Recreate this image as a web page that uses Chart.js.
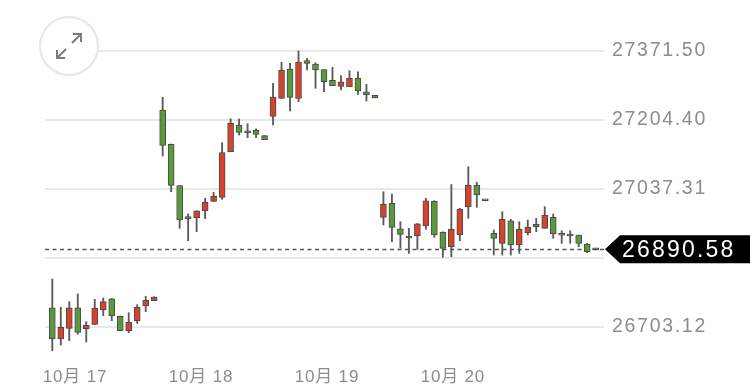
<!DOCTYPE html>
<html>
<head>
<meta charset="utf-8">
<script src="https://cdn.jsdelivr.net/npm/chart.js@4.4.0/dist/chart.umd.min.js"></script>
<style>
    html, body { margin: 0; padding: 0; background: #fff; overflow: hidden; }
    #wrap { width: 750px; height: 410px; }
</style>
</head>
<body>
<div id="wrap"><canvas id="kline" width="750" height="410"></canvas></div>
<script>
    // candle data, one entry per bar
    const opens  = [26749.1, 26673.3, 26699.2, 26749.1, 26698.3, 26708.9, 26743.5, 26770.9, 26728.3, 26693.4, 26717.6, 26753.2, 26766.1,
                    27227.9, 27144.8, 27044.6, 26966.3, 26967.1, 26984.0, 27006.8, 27016.5, 27126.9, 27191.6, 27175.3, 27178.7, 27165.7,
                    27212.6, 27256.2, 27327.2, 27256.2, 27347.3, 27339.3, 27325.5, 27299.8, 27285.3, 27284.3, 27305.4, 27272.2, 27263.5,
                    26968.0, 27001.9, 26940.4, 26919.6, 26922.8, 26947.0, 27006.8, 26931.7, 26896.8, 26925.2, 26993.7, 27045.5, 27008.6,
                    26929.3, 26905.1, 26959.8, 26901.0, 26930.8, 26951.1, 26941.4, 26968.0, 26925.9, 26926.9, 26925.2, 26903.4, 26889.5];
    const highs  = [26818.6, 26750.1, 26763.7, 26782.3, 26715.2, 26769.5, 26772.6, 26771.9, 26729.0, 26737.0, 26756.4, 26776.7, 26775.8,
                    27258.6, 27145.6, 27045.5, 26976.0, 26984.0, 27014.1, 27028.6, 27148.7, 27206.8, 27206.1, 27194.7, 27182.6, 27165.7,
                    27292.6, 27343.4, 27341.0, 27370.8, 27353.1, 27342.4, 27325.5, 27331.3, 27311.0, 27323.1, 27320.6, 27290.1, 27263.5,
                    27030.0, 27024.5, 26957.4, 26941.4, 26953.5, 27014.1, 27008.2, 26933.2, 27047.5, 26989.8, 27090.6, 27052.8, 27008.8,
                    26937.3, 26981.6, 26963.2, 26957.4, 26961.5, 26965.6, 26993.7, 26976.0, 26935.6, 26935.6, 26925.2, 26905.1, 26891.0];
    const lows   = [26645.0, 26658.8, 26669.2, 26684.7, 26666.1, 26708.0, 26729.7, 26717.6, 26693.4, 26688.6, 26711.3, 26739.4, 26766.1,
                    27116.5, 27030.0, 26941.4, 26911.4, 26933.2, 26964.7, 27006.8, 27011.6, 27126.9, 27167.3, 27160.8, 27160.8, 27156.0,
                    27191.6, 27256.2, 27225.5, 27248.0, 27324.8, 27280.4, 27272.2, 27286.7, 27276.3, 27284.3, 27265.9, 27249.7, 27257.0,
                    26949.4, 26909.0, 26893.0, 26880.9, 26890.5, 26939.0, 26919.6, 26871.2, 26872.6, 26911.4, 26965.6, 26992.3, 27007.8,
                    26876.7, 26876.7, 26876.7, 26880.9, 26925.2, 26933.2, 26941.4, 26917.2, 26905.1, 26905.1, 26896.8, 26882.3, 26889.0];
    const closes = [26673.3, 26701.7, 26749.1, 26689.5, 26706.5, 26748.4, 26763.7, 26729.0, 26693.4, 26713.8, 26750.1, 26767.0, 26775.0,
                    27142.4, 27045.5, 26961.5, 26964.7, 26984.0, 27004.4, 27019.6, 27124.5, 27195.7, 27173.9, 27172.9, 27169.0, 27156.0,
                    27259.4, 27324.8, 27258.6, 27344.1, 27341.0, 27324.8, 27296.4, 27286.7, 27296.4, 27304.7, 27273.9, 27264.9, 27257.0,
                    27000.3, 26943.8, 26926.9, 26917.9, 26952.5, 27008.2, 26925.2, 26893.0, 26939.0, 26987.4, 27045.5, 27022.0, 27008.2,
                    26917.2, 26963.2, 26901.0, 26939.0, 26943.8, 26945.3, 26973.6, 26927.6, 26924.5, 26922.8, 26905.1, 26884.7, 26890.58];

    const lastPrice = 26890.58;
    const priceTicks = [26536.03, 26703.12, 26870.21, 27037.31, 27204.40, 27371.50];
    const dayLabels = ['10月 17', '10月 18', '10月 19', '10月 20'];
    const dayTickAt = [2.67, 17.51, 32.35, 47.19];   // in candle-index units

    const UP = '#d6432d', DOWN = '#5a9a3c';

    const bodies = opens.map((o, i) => ({ x: i, y: [Math.min(o, closes[i]), Math.max(o, closes[i])] }));
    const wicks = highs.map((h, i) => ({ x: i, y: [lows[i], h] }));
    const bodyColors = opens.map((o, i) => closes[i] >= o ? UP : DOWN);

    const overlay = {
        id: 'overlay',
        beforeDraw(chart) {
            chart.ctx.letterSpacing = '1.7px';
        },
        beforeDatasetsDraw(chart) {
            const { ctx, chartArea, scales } = chart;
            const y = Math.round(scales.y.getPixelForValue(lastPrice)) + 0.5;
            ctx.save();
            ctx.strokeStyle = '#555';
            ctx.lineWidth = 1.5;
            ctx.setLineDash([4, 3.5]);
            ctx.beginPath();
            ctx.moveTo(chartArea.left, y);
            ctx.lineTo(chartArea.right, y);
            ctx.stroke();
            ctx.restore();
        },
        afterDraw(chart) {
            const { ctx, chartArea, scales } = chart;
            ctx.save();

            // last price tag
            const y = scales.y.getPixelForValue(lastPrice);
            const x0 = chartArea.right + 1;
            ctx.fillStyle = '#000';
            ctx.beginPath();
            ctx.moveTo(x0, y);
            ctx.lineTo(x0 + 15, y - 14);
            ctx.lineTo(750, y - 14);
            ctx.lineTo(750, y + 14);
            ctx.lineTo(x0 + 15, y + 14);
            ctx.closePath();
            ctx.fill();
            ctx.letterSpacing = '2.2px';
            ctx.fillStyle = '#fff';
            ctx.font = '23px "Liberation Sans", Arial, sans-serif';
            ctx.textAlign = 'left';
            ctx.textBaseline = 'middle';
            ctx.fillText(lastPrice.toFixed(2), x0 + 17, y + 1);

            // date labels
            ctx.letterSpacing = '0.8px';
            ctx.fillStyle = '#8c8c8c';
            ctx.font = '17px "Liberation Sans", "Noto Sans CJK SC", sans-serif';
            ctx.textAlign = 'center';
            dayLabels.forEach((lbl, i) => {
                ctx.fillText(lbl, scales.x.getPixelForValue(dayTickAt[i]), 377);
            });

            // expand button
            ctx.letterSpacing = '0px';
            ctx.beginPath();
            ctx.arc(69, 46, 29, 0, Math.PI * 2);
            ctx.fillStyle = '#fff';
            ctx.fill();
            ctx.strokeStyle = '#e6e6e6';
            ctx.lineWidth = 2;
            ctx.stroke();
            ctx.strokeStyle = '#7c7c7c';
            ctx.lineWidth = 2;
            ctx.beginPath();
            ctx.moveTo(66, 49); ctx.lineTo(57, 58);
            ctx.moveTo(57, 50); ctx.lineTo(57, 58); ctx.lineTo(65, 58);
            ctx.moveTo(72, 43); ctx.lineTo(81, 34);
            ctx.moveTo(73, 34); ctx.lineTo(81, 34); ctx.lineTo(81, 42);
            ctx.stroke();
            ctx.restore();
        }
    };

    const ctx = document.getElementById('kline').getContext('2d');
    const klineChart = new Chart(ctx, {
        type: 'bar',
        data: {
            datasets: [
                {
                    label: 'body',
                    data: bodies,
                    backgroundColor: bodyColors,
                    borderColor: '#4a4a4a',
                    borderWidth: 1,
                    borderSkipped: false,
                    barThickness: 6,
                    minBarLength: 2,
                    grouped: false,
                    order: 0
                },
                {
                    label: 'wick',
                    data: wicks,
                    backgroundColor: '#5a5a5a',
                    barThickness: 1.2,
                    grouped: false,
                    order: 1
                }
            ]
        },
        options: {
            responsive: false,
            animation: false,
            devicePixelRatio: 1,
            layout: { padding: { left: 45, top: 0, right: 0, bottom: 0 } },
            scales: {
                x: {
                    type: 'linear',
                    display: false,
                    offset: false,
                    min: -0.86,
                    max: 64.98
                },
                y: {
                    position: 'right',
                    min: 26501.4,
                    max: 27494.3,
                    afterBuildTicks: (scale) => {
                        scale.ticks = priceTicks.map(v => ({ value: v }));
                    },
                    afterFit: (scale) => {
                        scale.width = 146;
                        scale.paddingTop = 0;
                        scale.paddingBottom = 0;
                    },
                    border: { display: false },
                    grid: { color: '#e8e8e8', lineWidth: 2, drawTicks: false },
                    ticks: {
                        padding: 8,
                        color: '#8c8c8c',
                        font: { family: '"Liberation Sans", Arial, sans-serif', size: 19.5 },
                        callback: (v) => Math.abs(v - lastPrice) < 40 ? '' : Number(v).toFixed(2)
                    }
                }
            },
            plugins: {
                legend: { display: false },
                tooltip: { enabled: false }
            }
        },
        plugins: [overlay]
    });
</script>
</body>
</html>
